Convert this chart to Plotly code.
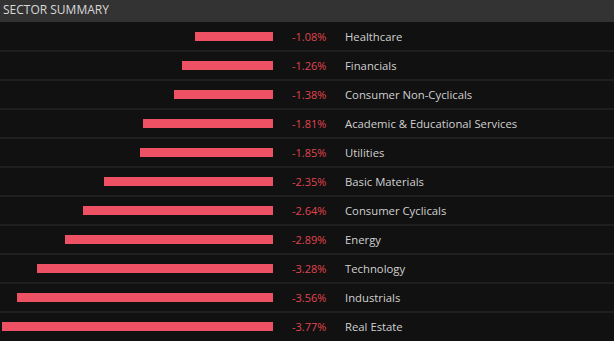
import plotly.graph_objects as go

sectors = ["Healthcare", "Financials", "Consumer Non-Cyclicals",
           "Academic & Educational Services", "Utilities", "Basic Materials",
           "Consumer Cyclicals", "Energy", "Technology", "Industrials", "Real Estate"]
changes = [-1.08, -1.26, -1.38, -1.81, -1.85, -2.35, -2.64, -2.89, -3.28, -3.56, -3.77]
value_labels = [f"{v:.2f}%" for v in changes]
title = "SECTOR SUMMARY"

W, H = 614, 341
HEADER = 22
zero_x = 273
px_per_pct = 72.0

fig = go.Figure()
fig.add_trace(go.Bar(
    x=changes, y=sectors, orientation="h",
    marker=dict(color="#ee5064", line=dict(width=0)),
    width=0.28, hoverinfo="skip"
))

shapes = [
    dict(type="rect", xref="paper", yref="paper", x0=0, x1=1,
         y0=1 - HEADER / H, y1=1, fillcolor="#333333", line=dict(width=0), layer="below"),
]
for i in range(len(sectors) - 1):
    shapes.append(dict(type="line", xref="paper", yref="y", x0=0, x1=1,
                       y0=i + 0.5, y1=i + 0.5, line=dict(color="#2f2f2f", width=1)))

annotations = [dict(text=title, xref="paper", yref="paper", x=1 / W, y=1 - 10 / H,
                    xanchor="left", yanchor="middle", showarrow=False,
                    font=dict(family="Open Sans", size=12, color="#d8d8d8"))]
for s, lbl in zip(sectors, value_labels):
    annotations.append(dict(text=lbl, xref="paper", yref="y", x=328 / W, y=s,
                            xanchor="right", yanchor="middle", showarrow=False,
                            font=dict(family="Open Sans", size=11, color="#e0454f")))
    annotations.append(dict(text=s, xref="paper", yref="y", x=343 / W, y=s,
                            xanchor="left", yanchor="middle", showarrow=False,
                            font=dict(family="Open Sans", size=11.3, color="#d0d0d0")))

fig.update_layout(
    width=W, height=H, margin=dict(l=0, r=0, t=0, b=0),
    paper_bgcolor="#111111", plot_bgcolor="rgba(0,0,0,0)",
    showlegend=False, bargap=0,
    xaxis=dict(range=[-zero_x / px_per_pct, 0], domain=[0, zero_x / W],
               visible=False, fixedrange=True),
    yaxis=dict(range=[len(sectors) - 0.5, -0.5], domain=[0, 1 - HEADER / H],
               visible=False, fixedrange=True, type="category"),
    shapes=shapes, annotations=annotations,
)
fig.write_html("out.html")
